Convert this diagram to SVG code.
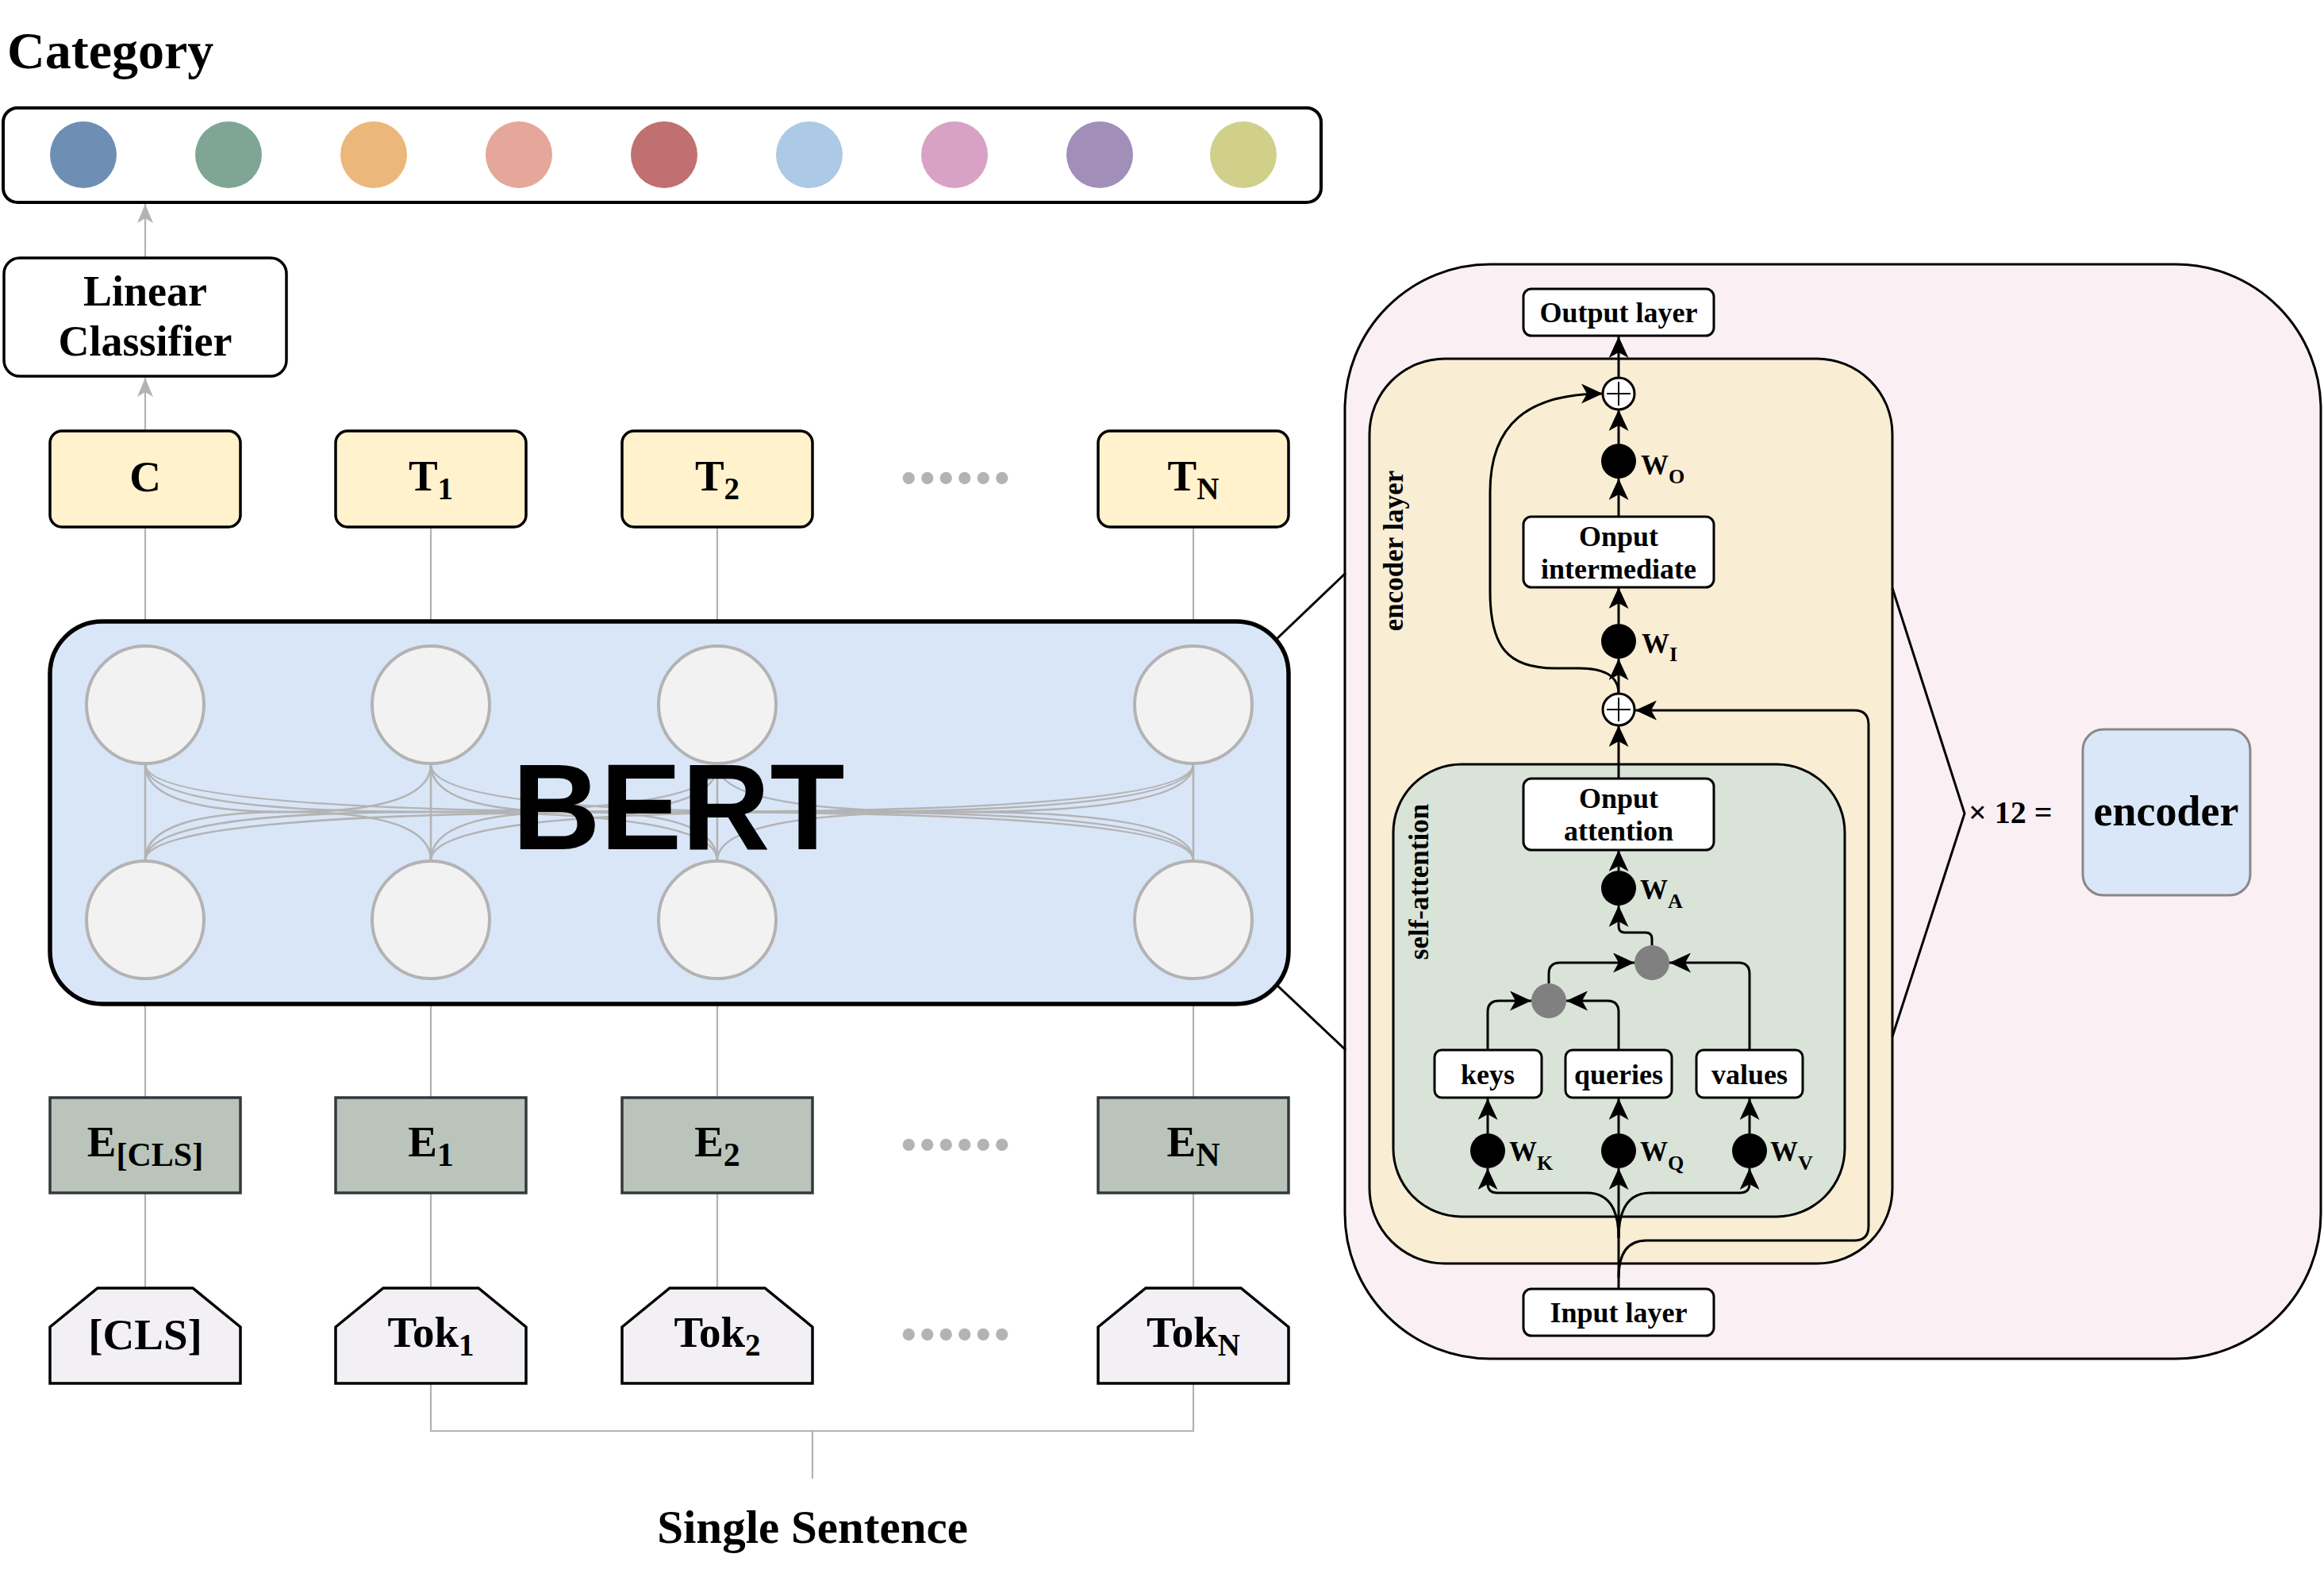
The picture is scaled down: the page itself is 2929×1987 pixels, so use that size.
<svg xmlns="http://www.w3.org/2000/svg" width="2929" height="1987" viewBox="0 0 2929 1987">
<defs>
<style>
text{font-family:'Liberation Serif','Times New Roman',serif;font-weight:bold;fill:#000}
.g{stroke:#B3B3B3;stroke-width:2.2;fill:none}
.m{stroke:#B3B3B3;stroke-width:2.6;fill:none}
.b{stroke:#000;stroke-width:3;fill:none}
.tbox{fill:#FFF2CC;stroke:#000;stroke-width:3.5}
.ebox{fill:#BAC4BA;stroke:#33383D;stroke-width:3.5}
.tok{fill:#F2F0F4;stroke:#000;stroke-width:3.5}
.neu{fill:#F2F2F2;stroke:#B3B3B3;stroke-width:4}
.wbox{fill:#FFFFFF;stroke:#000;stroke-width:3}
.wc{fill:#000}
.gc{fill:#808080}
.lbl{font-size:55px}
.sub{font-size:39px}
.esub{font-size:42px}
.rl{font-size:36px}
.w{font-size:35px}
.ws{font-size:26px}
.dots{font-size:94px;fill:#B3B3B3}
</style>
<marker id="ag" markerUnits="userSpaceOnUse" viewBox="0 0 24 20" markerWidth="24" markerHeight="20" refX="24" refY="10" orient="auto"><path d="M0,0 L24,10 L0,20 L6,10 Z" fill="#B3B3B3"/></marker>
<marker id="ab" markerUnits="userSpaceOnUse" viewBox="0 0 27 25" markerWidth="27" markerHeight="25" refX="27" refY="12.5" orient="auto"><path d="M0,0 L27,12.5 L0,25 L7,12.5 Z" fill="#000"/></marker>
</defs>
<rect width="2929" height="1987" fill="#FFFFFF"/>

<!-- Title -->
<text id="title" x="9" y="86" style="font-size:66px">Category</text>

<!-- Category box -->
<g id="category">
<rect x="4" y="136" width="1661" height="119" rx="18" fill="#FFFFFF" stroke="#000" stroke-width="4"/>
<circle cx="105" cy="195" r="42" fill="#6E8FB3"/>
<circle cx="288" cy="195" r="42" fill="#7FA694"/>
<circle cx="471" cy="195" r="42" fill="#ECB77A"/>
<circle cx="654" cy="195" r="42" fill="#E5A79A"/>
<circle cx="837" cy="195" r="42" fill="#C07070"/>
<circle cx="1020" cy="195" r="42" fill="#ACC9E6"/>
<circle cx="1203" cy="195" r="42" fill="#D8A2C4"/>
<circle cx="1386" cy="195" r="42" fill="#A18EB9"/>
<circle cx="1567" cy="195" r="42" fill="#D1D08B"/>
</g>

<!-- Connectors left side -->
<g id="connectors-left">
<path class="g" d="M183,324 L183,257" marker-end="url(#ag)"/>
<path class="g" d="M183,542 L183,476" marker-end="url(#ag)"/>
<path class="g" d="M183,664 L183,783 M543,664 L543,783 M904,664 L904,783 M1504,664 L1504,783"/>
<path class="g" d="M183,1265 L183,1383 M543,1265 L543,1383 M904,1265 L904,1383 M1504,1265 L1504,1383"/>
<path class="g" d="M183,1503 L183,1623 M543,1503 L543,1623 M904,1503 L904,1623 M1504,1503 L1504,1623"/>
<path class="g" d="M543,1743 L543,1803 L1504,1803 L1504,1743 M1024,1803 L1024,1863"/>
</g>

<!-- Linear classifier -->
<g id="linear-classifier">
<rect x="5" y="325" width="356" height="149" rx="20" fill="#FFFFFF" stroke="#000" stroke-width="3.5"/>
<text x="183" y="385" text-anchor="middle" style="font-size:54px">Linear</text>
<text x="183" y="448" text-anchor="middle" style="font-size:54px">Classifier</text>
</g>

<!-- T row -->
<g id="t-c"><rect class="tbox" x="63" y="543" width="240" height="121" rx="15"/><text class="lbl" x="183" y="619" text-anchor="middle">C</text></g>
<g id="t-1"><rect class="tbox" x="423" y="543" width="240" height="121" rx="15"/><text class="lbl" x="543" y="618" text-anchor="middle">T<tspan class="sub" dy="11">1</tspan></text></g>
<g id="t-2"><rect class="tbox" x="784" y="543" width="240" height="121" rx="15"/><text class="lbl" x="904" y="618" text-anchor="middle">T<tspan class="sub" dy="11">2</tspan></text></g>
<g id="t-n"><rect class="tbox" x="1384" y="543" width="240" height="121" rx="15"/><text class="lbl" x="1504" y="618" text-anchor="middle">T<tspan class="sub" dy="11">N</tspan></text></g>
<text class="dots" x="1204" y="609" text-anchor="middle">......</text>

<!-- BERT -->
<g id="bert">
<rect x="63" y="783" width="1561" height="482" rx="66" fill="#D9E6F8" stroke="#000" stroke-width="5.5"/>
<g id="bert-mesh">
<path class="m" d="M183,963 L183,1084 M543,963 L543,1084 M904,963 L904,1084 M1504,963 L1504,1084"/>
<path class="m" d="M183,963 Q183,1023 363,1023 Q543,1023 543,1084"/>
<path class="m" d="M183,963 Q183,1023 543.5,1023 Q904,1023 904,1084"/>
<path class="m" d="M183,963 Q183,1023 843.5,1023 Q1504,1023 1504,1084"/>
<path class="m" d="M543,963 Q543,1023 363,1023 Q183,1023 183,1084"/>
<path class="m" d="M543,963 Q543,1023 723.5,1023 Q904,1023 904,1084"/>
<path class="m" d="M543,963 Q543,1023 1023.5,1023 Q1504,1023 1504,1084"/>
<path class="m" d="M904,963 Q904,1023 543.5,1023 Q183,1023 183,1084"/>
<path class="m" d="M904,963 Q904,1023 723.5,1023 Q543,1023 543,1084"/>
<path class="m" d="M904,963 Q904,1023 1204,1023 Q1504,1023 1504,1084"/>
<path class="m" d="M1504,963 Q1504,1023 843.5,1023 Q183,1023 183,1084"/>
<path class="m" d="M1504,963 Q1504,1023 1023.5,1023 Q543,1023 543,1084"/>
<path class="m" d="M1504,963 Q1504,1023 1204,1023 Q904,1023 904,1084"/>
</g>
<circle class="neu" cx="183" cy="888" r="74"/>
<circle class="neu" cx="543" cy="888" r="74"/>
<circle class="neu" cx="904" cy="888" r="74"/>
<circle class="neu" cx="1504" cy="888" r="74"/>
<circle class="neu" cx="183" cy="1159" r="74"/>
<circle class="neu" cx="543" cy="1159" r="74"/>
<circle class="neu" cx="904" cy="1159" r="74"/>
<circle class="neu" cx="1504" cy="1159" r="74"/>
<text x="855" y="1070" text-anchor="middle" style="font-family:'Liberation Sans',Arial,sans-serif;font-size:154px">BERT</text>
</g>

<!-- E row -->
<g id="e-cls"><rect class="ebox" x="63" y="1383" width="240" height="120"/><text class="lbl" x="183" y="1457" text-anchor="middle">E<tspan class="esub" dy="12">[CLS]</tspan></text></g>
<g id="e-1"><rect class="ebox" x="423" y="1383" width="240" height="120"/><text class="lbl" x="543" y="1457" text-anchor="middle">E<tspan class="esub" dy="12">1</tspan></text></g>
<g id="e-2"><rect class="ebox" x="784" y="1383" width="240" height="120"/><text class="lbl" x="904" y="1457" text-anchor="middle">E<tspan class="esub" dy="12">2</tspan></text></g>
<g id="e-n"><rect class="ebox" x="1384" y="1383" width="240" height="120"/><text class="lbl" x="1504" y="1457" text-anchor="middle">E<tspan class="esub" dy="12">N</tspan></text></g>
<text class="dots" x="1204" y="1449" text-anchor="middle">......</text>

<!-- Tok row -->
<g id="tok-cls"><path class="tok" d="M123,1623 L243,1623 L303,1672 L303,1743 L63,1743 L63,1672 Z"/><text class="lbl" x="183" y="1700" text-anchor="middle">[CLS]</text></g>
<g id="tok-1"><path class="tok" d="M483,1623 L603,1623 L663,1672 L663,1743 L423,1743 L423,1672 Z"/><text class="lbl" x="543" y="1697" text-anchor="middle">Tok<tspan class="sub" dy="11">1</tspan></text></g>
<g id="tok-2"><path class="tok" d="M844,1623 L964,1623 L1024,1672 L1024,1743 L784,1743 L784,1672 Z"/><text class="lbl" x="904" y="1697" text-anchor="middle">Tok<tspan class="sub" dy="11">2</tspan></text></g>
<g id="tok-n"><path class="tok" d="M1444,1623 L1564,1623 L1624,1672 L1624,1743 L1384,1743 L1384,1672 Z"/><text class="lbl" x="1504" y="1697" text-anchor="middle">Tok<tspan class="sub" dy="11">N</tspan></text></g>
<text class="dots" x="1204" y="1688" text-anchor="middle">......</text>

<text id="single-sentence" x="1024" y="1944" text-anchor="middle" style="font-size:59px">Single Sentence</text>

<!-- Encoder detail -->
<g id="encoder-detail">
<rect x="1695" y="333" width="1230" height="1379" rx="183" fill="#FAF0F4" stroke="#000" stroke-width="3"/>
<rect id="encoder-layer" x="1726" y="452" width="659" height="1140" rx="95" fill="#F9EDD4" stroke="#000" stroke-width="3"/>
<rect id="self-attention" x="1756" y="963" width="569" height="570" rx="86" fill="#D9E3D8" stroke="#000" stroke-width="3"/>
<text class="rl" transform="translate(1768,694) rotate(-90)" text-anchor="middle" style="font-size:35px">encoder layer</text>
<text class="rl" transform="translate(1800,1111) rotate(-90)" text-anchor="middle" style="font-size:35px">self-attention</text>
</g>

<!-- Zoom lines -->
<g id="zoom-lines">
<path class="b" d="M1608,806 L1696,722 M1608,1240 L1696,1323" stroke-width="2.5"/>
<path class="b" d="M2385,741 L2476,1025 L2385,1306"/>
</g>

<!-- Connectors right side -->
<g id="connectors-right">
<path class="b" d="M2040,476 L2040,424" marker-end="url(#ab)"/>
<path class="b" d="M2040,559 L2040,516" marker-end="url(#ab)"/>
<path class="b" d="M2040,650 L2040,603" marker-end="url(#ab)"/>
<path class="b" d="M2040,786 L2040,740" marker-end="url(#ab)"/>
<path class="b" d="M2040,874 L2040,830" marker-end="url(#ab)"/>
<path class="b" d="M2040,874 C2040,850 2020,842 1990,842 L1960,842 C1900,842 1878,815 1878,745 L1878,620 C1878,535 1925,496 2020,496" marker-end="url(#ab)"/>
<path class="b" d="M2040,981 L2040,914" marker-end="url(#ab)"/>
<path class="b" d="M2040,1097 L2040,1071" marker-end="url(#ab)"/>
<path class="b" d="M2082,1191 L2082,1183 Q2082,1175 2074,1175 L2048,1175 Q2040,1175 2040,1167 L2040,1141" marker-end="url(#ab)"/>
<path class="b" d="M1875,1323 L1875,1275 Q1875,1261 1889,1261 L1930,1261" marker-end="url(#ab)"/>
<path class="b" d="M2040,1323 L2040,1275 Q2040,1261 2026,1261 L1974,1261" marker-end="url(#ab)"/>
<path class="b" d="M1952,1239 L1952,1227 Q1952,1213 1966,1213 L2060,1213" marker-end="url(#ab)"/>
<path class="b" d="M2205,1323 L2205,1227 Q2205,1213 2191,1213 L2104,1213" marker-end="url(#ab)"/>
<path class="b" d="M1875,1428 L1875,1384" marker-end="url(#ab)"/>
<path class="b" d="M2040,1428 L2040,1384" marker-end="url(#ab)"/>
<path class="b" d="M2205,1428 L2205,1384" marker-end="url(#ab)"/>
<path class="b" d="M2040,1624 L2040,1472" marker-end="url(#ab)"/>
<path class="b" d="M2040,1560 Q2040,1503 2000,1503 L1887,1503 Q1875,1503 1875,1491 L1875,1472" marker-end="url(#ab)"/>
<path class="b" d="M2040,1560 Q2040,1503 2080,1503 L2193,1503 Q2205,1503 2205,1491 L2205,1472" marker-end="url(#ab)"/>
<path class="b" d="M2040,1610 Q2040,1563 2075,1563 L2337,1563 Q2355,1563 2355,1545 L2355,913 Q2355,895 2337,895 L2061,895" marker-end="url(#ab)"/>
</g>

<!-- Right nodes -->
<g id="output-layer"><rect class="wbox" x="1920" y="364" width="240" height="59" rx="10"/><text class="rl" x="2040" y="406" text-anchor="middle">Output layer</text></g>
<g id="add-top"><circle cx="2040" cy="496" r="20" fill="#FFF" stroke="#000" stroke-width="3"/><path d="M2025,496 L2055,496 M2040,481 L2040,511" stroke="#000" stroke-width="2"/></g>
<g id="w-o"><circle class="wc" cx="2040" cy="581" r="22"/><text class="w" x="2068" y="598">W<tspan class="ws" dy="11">O</tspan></text></g>
<g id="onput-intermediate"><rect class="wbox" x="1920" y="651" width="240" height="89" rx="10"/><text class="rl" x="2040" y="688" text-anchor="middle">Onput</text><text class="rl" x="2040" y="729" text-anchor="middle">intermediate</text></g>
<g id="w-i"><circle class="wc" cx="2040" cy="808" r="22"/><text class="w" x="2069" y="823">W<tspan class="ws" dy="10">I</tspan></text></g>
<g id="add-bottom"><circle cx="2040" cy="894" r="20" fill="#FFF" stroke="#000" stroke-width="3"/><path d="M2025,894 L2055,894 M2040,879 L2040,909" stroke="#000" stroke-width="2"/></g>
<g id="onput-attention"><rect class="wbox" x="1920" y="981" width="240" height="90" rx="10"/><text class="rl" x="2040" y="1018" text-anchor="middle">Onput</text><text class="rl" x="2040" y="1059" text-anchor="middle">attention</text></g>
<g id="w-a"><circle class="wc" cx="2040" cy="1119" r="22"/><text class="w" x="2067" y="1133">W<tspan class="ws" dy="11">A</tspan></text></g>
<g id="mul-2"><circle class="gc" cx="2082" cy="1213" r="22"/></g>
<g id="mul-1"><circle class="gc" cx="1952" cy="1261" r="22"/></g>
<g id="keys"><rect class="wbox" x="1808" y="1323" width="135" height="60" rx="9"/><text class="rl" x="1875" y="1366" text-anchor="middle">keys</text></g>
<g id="queries"><rect class="wbox" x="1973" y="1323" width="134" height="60" rx="9"/><text class="rl" x="2040" y="1366" text-anchor="middle">queries</text></g>
<g id="values"><rect class="wbox" x="2138" y="1323" width="134" height="60" rx="9"/><text class="rl" x="2205" y="1366" text-anchor="middle">values</text></g>
<g id="w-k"><circle class="wc" cx="1875" cy="1450" r="22"/><text class="w" x="1902" y="1463">W<tspan class="ws" dy="11">K</tspan></text></g>
<g id="w-q"><circle class="wc" cx="2040" cy="1450" r="22"/><text class="w" x="2067" y="1463">W<tspan class="ws" dy="11">Q</tspan></text></g>
<g id="w-v"><circle class="wc" cx="2205" cy="1450" r="22"/><text class="w" x="2231" y="1463">W<tspan class="ws" dy="11">V</tspan></text></g>
<g id="input-layer"><rect class="wbox" x="1920" y="1624" width="240" height="59" rx="10"/><text class="rl" x="2040" y="1666" text-anchor="middle">Input layer</text></g>

<!-- Encoder summary -->
<text id="times-12" x="2481" y="1037" style="font-size:40px">× 12 =</text>
<g id="encoder"><rect x="2625" y="919" width="211" height="209" rx="26" fill="#DAE7F8" stroke="#888888" stroke-width="3"/><text x="2730" y="1040" text-anchor="middle" style="font-size:54px">encoder</text></g>
</svg>
